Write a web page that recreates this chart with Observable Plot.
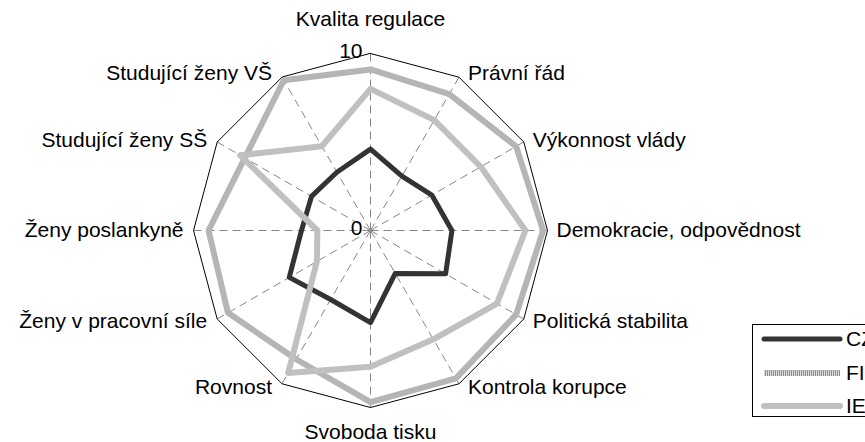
<!DOCTYPE html>
<html><head><meta charset="utf-8">
<script src="https://cdn.jsdelivr.net/npm/d3@7"></script>
<script src="https://cdn.jsdelivr.net/npm/@observablehq/plot@0.6"></script>
<style>
html,body{margin:0;padding:0;background:#fff;}
#wrap{position:relative;width:865px;height:442px;overflow:hidden;font-family:"Liberation Sans",Arial,sans-serif;}
#legend{position:absolute;left:752px;top:324px;width:140px;height:93px;border:1px solid #000;background:#fff;box-sizing:border-box;}
.row{position:absolute;left:8px;height:26px;display:flex;align-items:center;font-size:21px;color:#000;white-space:nowrap;}
.row svg{display:block;margin-right:3px;}
</style></head><body><div id="wrap"></div>
<script>
// ---- data ----
const categories = ["Kvalita regulace","Právní řád","Výkonnost vlády","Demokracie, odpovědnost","Politická stabilita","Kontrola korupce","Svoboda tisku","Rovnost","Ženy v pracovní síle","Ženy poslankyně","Studující ženy SŠ","Studující ženy VŠ"];
const seriesNames = ["CZ","FI","IE"];
const valuesCZ = [4.6,3.55,4.0,4.6,4.9,2.8,5.2,4.5,5.3,3.9,3.85,3.8];
const valuesFI = [9.1,8.9,9.5,9.75,9.5,9.65,9.7,8.4,9.3,9.15,8.2,9.8];
const valuesIE = [8.0,7.2,7.2,8.75,8.25,7.1,7.7,9.3,3.5,3.0,8.5,5.5];
const axisTicks = [10, 0];
const axisMax = 10;

// ---- layout ----
const W = 865, H = 442, cx = 370, cy = 230, k = 17.7;
const n = categories.length;
const ang = i => i * 2 * Math.PI / n;
const toXY = (v, i) => ({x: v * Math.sin(ang(i)), y: v * Math.cos(ang(i))});

const seriesValues = {CZ: valuesCZ, FI: valuesFI, IE: valuesIE};
const pts = name => seriesValues[name].map((v, i) => ({...toXY(v, i), cat: categories[i]}));
const ring = categories.map((c, i) => toXY(axisMax, i));
const spokes = categories.map((c, i) => { const p = toXY(axisMax, i); return {x1: 0, y1: 0, x2: p.x, y2: p.y}; });

const labels = categories.map((c, i) => {
  const s = Math.sin(ang(i)), co = Math.cos(ang(i));
  return {text: c, s, x: axisMax * s, y: axisMax * co + 0.25 * co};
});
const labRight = labels.filter(d => d.s > 0.01);
const labLeft = labels.filter(d => d.s < -0.01);
const labTop = labels.filter(d => Math.abs(d.s) <= 0.01 && d.y > 0);
const labBottom = labels.filter(d => Math.abs(d.s) <= 0.01 && d.y < 0);

const FS = 21;
const chart = Plot.plot({
  width: W, height: H, margin: 0,
  x: {domain: [-cx / k, (W - cx) / k], axis: null},
  y: {domain: [-(H - cy) / k, cy / k], axis: null},
  style: {fontFamily: '"Liberation Sans", Arial, sans-serif', background: "#fff", overflow: "visible"},
  marks: [
    Plot.link(spokes, {x1: "x1", y1: "y1", x2: "x2", y2: "y2", stroke: "#858585", strokeWidth: 1, strokeDasharray: "8,5"}),
    Plot.line(ring, {x: "x", y: "y", curve: "linear-closed", stroke: "#000", strokeWidth: 1}),
    Plot.line(pts("CZ"), {x: "x", y: "y", curve: "linear-closed", stroke: "#333333", strokeWidth: 5, strokeLinejoin: "round"}),
    Plot.line(pts("FI"), {x: "x", y: "y", curve: "linear-closed", stroke: "url(#fiHatch)", strokeWidth: 6, strokeLinejoin: "miter"}),
    Plot.line(pts("IE"), {x: "x", y: "y", curve: "linear-closed", stroke: "#c0c0c0", strokeWidth: 6, strokeLinejoin: "round"}),
    Plot.text(axisTicks.map(t => ({x: 0, y: t, text: String(t)})), {x: "x", y: "y", text: "text", textAnchor: "end", dx: -8, dy: -2, fontSize: FS, fill: "#000"}),
    Plot.text(labRight, {x: "x", y: "y", text: "text", textAnchor: "start", dx: 9, fontSize: FS, fill: "#000"}),
    Plot.text(labLeft, {x: "x", y: "y", text: "text", textAnchor: "end", dx: -10, fontSize: FS, fill: "#000"}),
    Plot.text(labTop, {x: "x", y: "y", text: "text", textAnchor: "middle", dy: -30, fontSize: FS, fill: "#000"}),
    Plot.text(labBottom, {x: "x", y: "y", text: "text", textAnchor: "middle", dy: 20, fontSize: FS, fill: "#000"})
  ]
});

const NS = "http://www.w3.org/2000/svg";
const defs = document.createElementNS(NS, "defs");
defs.innerHTML = '<pattern id="fiHatch" patternUnits="userSpaceOnUse" width="2" height="2"><rect width="2" height="2" fill="#dadada"/><rect width="1" height="2" fill="#8f8f8f"/></pattern>';
chart.insertBefore(defs, chart.firstChild);

const wrap = document.getElementById("wrap");
wrap.appendChild(chart);

// ---- legend ----
const legend = document.createElement("div");
legend.id = "legend";
const lineStyles = {
  CZ: {stroke: "#333333", w: 5, cap: "round"},
  FI: {stroke: "url(#fiHatch)", w: 6, cap: "butt"},
  IE: {stroke: "#c0c0c0", w: 6, cap: "round"}
};
seriesNames.forEach((name, i) => {
  const row = document.createElement("div");
  row.className = "row";
  row.style.top = (1 + i * 33.5) + "px";
  const st = lineStyles[name];
  row.innerHTML = `<svg width="82" height="12"><line x1="3" y1="6" x2="79" y2="6" stroke="${st.stroke}" stroke-width="${st.w}" stroke-linecap="${st.cap}"/></svg><span>${name}</span>`;
  legend.appendChild(row);
});
wrap.appendChild(legend);
</script>
</body></html>
